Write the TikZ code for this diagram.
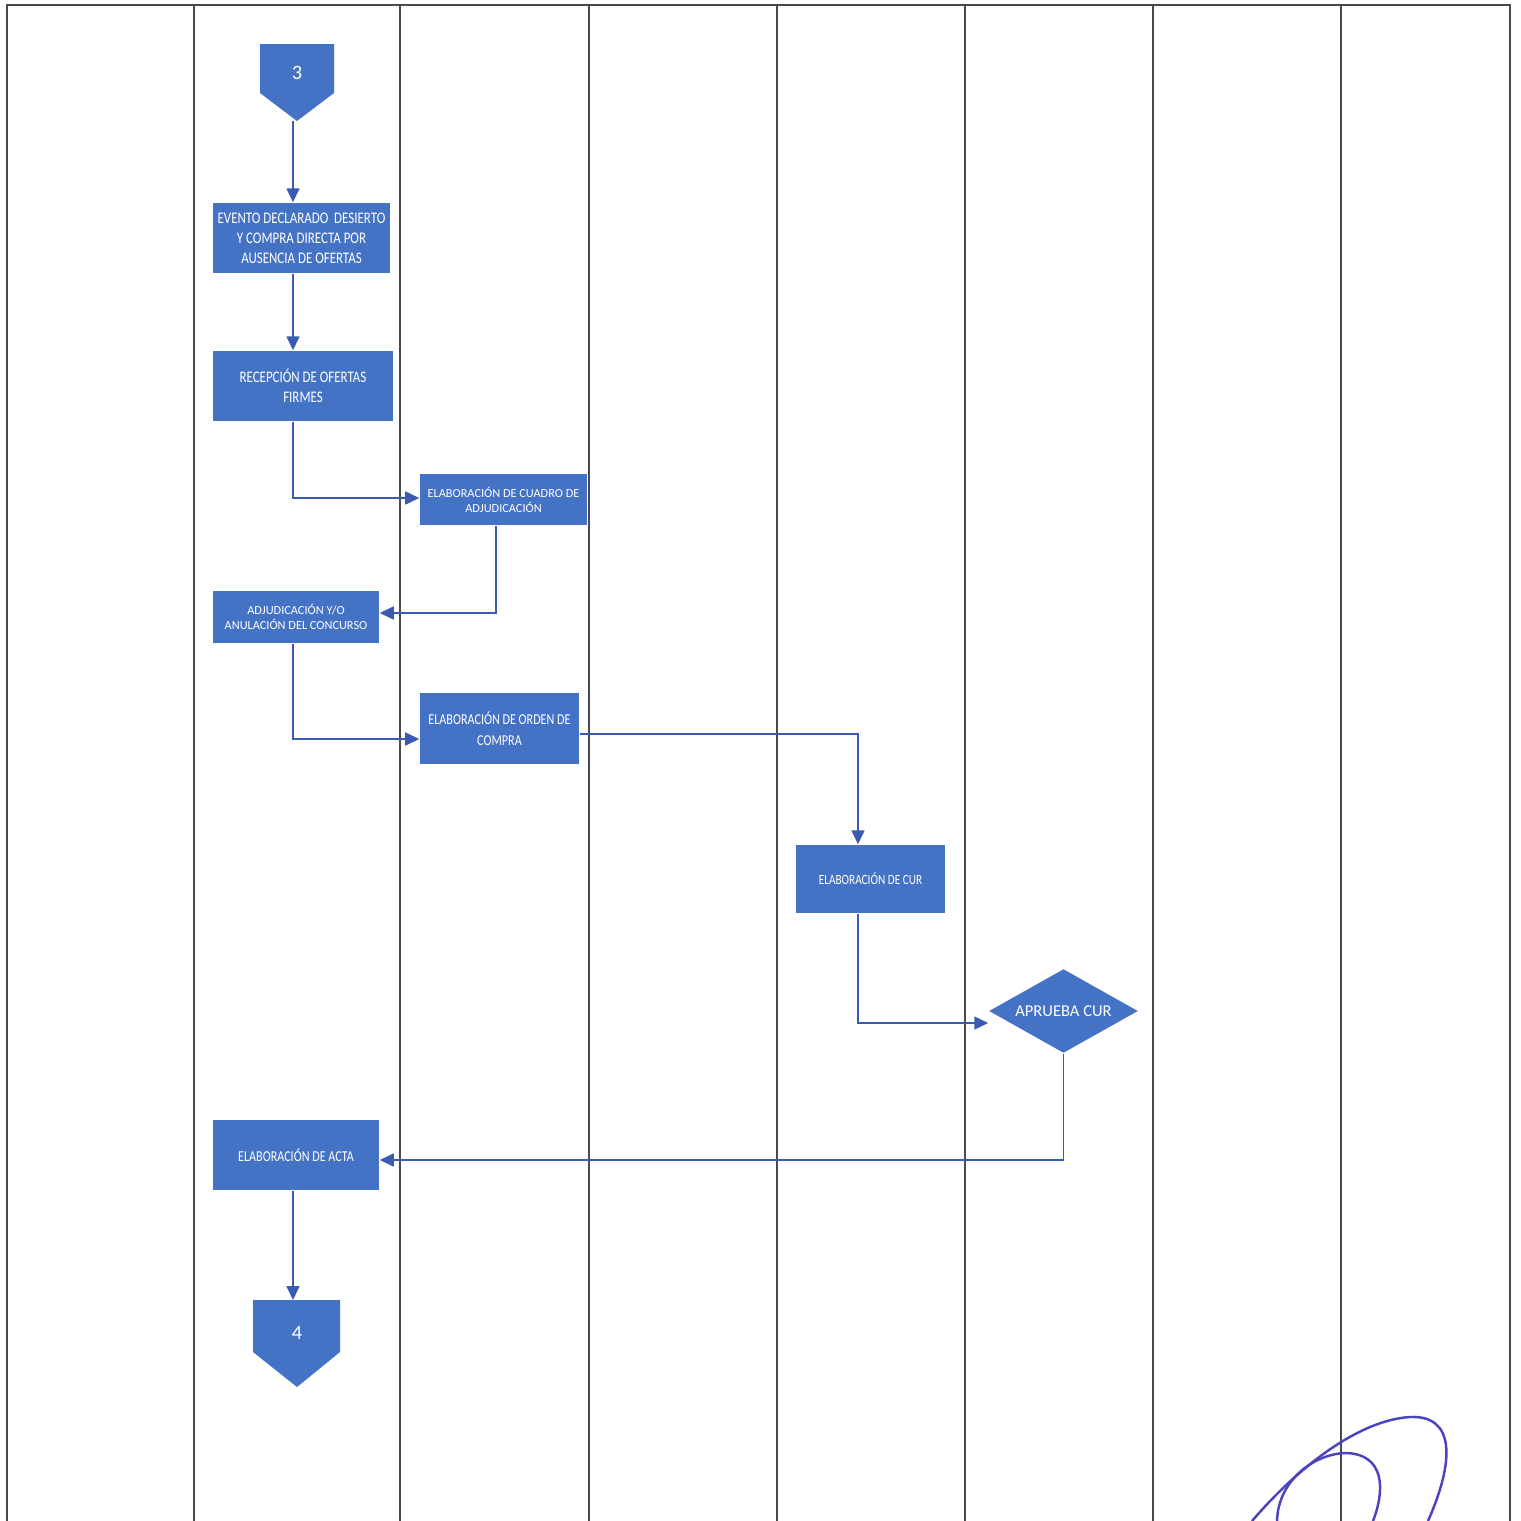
\documentclass[tikz,border=0pt]{standalone}
\usepackage{fontspec}
\setmainfont{Carlito}
\newfontfamily\condfont[FakeStretch=0.8]{Carlito}
\usepackage{tikz}
\usetikzlibrary{arrows.meta,positioning,shapes.geometric,calc}
\definecolor{flowblue}{HTML}{4472C4}
\definecolor{linkblue}{HTML}{3B5BB0}
\definecolor{gridgray}{HTML}{4A4A4A}
\definecolor{inkblue}{HTML}{4B44BE}

\begin{document}
\begin{tikzpicture}[
    x=0.01cm,y=-0.01cm,
    proc/.style={rectangle,fill=flowblue,text=white,align=center,inner sep=0pt,font=\condfont\fontsize{4.6}{5.7}\selectfont},
    procsm/.style={proc,font=\fontsize{3.5}{4.25}\selectfont},
    decide/.style={diamond,aspect=1.8,fill=flowblue,text=white,inner sep=0pt,font=\fontsize{4.7}{5.6}\selectfont},
    offpage/.style={fill=flowblue},
    lane/.style={draw=gridgray,line width=0.6pt},
    arr/.style={-{Triangle[length=1.4mm,width=1.3mm]},draw=linkblue,line width=0.45pt}
]
\fill[white] (0,0) rectangle (1521,1521);
\useasboundingbox (0,0) rectangle (1521,1521);

\draw[lane] (7,1521) |- (1510,5) -- (1510,1521);
\foreach \x in {194,400,589,777,965,1153,1341}
    \draw[lane] (\x,5) -- (\x,1521);

\coordinate (spine) at (293,0);

\fill[offpage] (260,44) -- (334,44) -- (334,93) -- (297,121) -- (260,93) -- cycle;
\node[text=white,font=\fontsize{5.8}{7}\selectfont] (c3) at (297,73) {3};
\coordinate (c3tip) at (297,121);

\node[proc,minimum width=1.77cm,minimum height=0.70cm] (ev) at (301.5,238)
    {EVENTO DECLARADO\ \ DESIERTO\\Y COMPRA DIRECTA POR\\AUSENCIA DE OFERTAS};
\node[proc,minimum width=1.80cm,minimum height=0.70cm] (rec) at (303,386)
    {RECEPCIÓN DE OFERTAS\\FIRMES};
\node[procsm,minimum width=1.67cm,minimum height=0.51cm] (cua) at (503.5,499.5)
    {ELABORACIÓN DE CUADRO DE\\ADJUDICACIÓN};
\node[procsm,minimum width=1.66cm,minimum height=0.52cm] (adj) at (296,617)
    {ADJUDICACIÓN Y/O\\ANULACIÓN DEL CONCURSO};
\node[proc,font=\condfont\fontsize{4.3}{5.9}\selectfont,minimum width=1.59cm,minimum height=0.71cm] (ord) at (499.5,728.5)
    {ELABORACIÓN DE ORDEN DE\\COMPRA};
\node[proc,font=\condfont\fontsize{4.0}{5}\selectfont,minimum width=1.49cm,minimum height=0.68cm] (cur) at (870.5,879)
    {ELABORACIÓN DE CUR};
\node[decide,minimum width=1.49cm,minimum height=0.84cm] (apr) at (1063.5,1011)
    {APRUEBA CUR};
\node[proc,font=\condfont\fontsize{4.3}{5}\selectfont,minimum width=1.66cm,minimum height=0.70cm] (act) at (296,1155)
    {ELABORACIÓN DE ACTA};

\fill[offpage] (253,1300) -- (340,1300) -- (340,1352) -- (297,1387) -- (253,1352) -- cycle;
\node[text=white,font=\fontsize{5.8}{7}\selectfont] (c4) at (297,1333) {4};
\coordinate (c4top) at (297,1300);

\draw[arr] (c3tip -| spine) -- (ev.north -| spine);
\draw[arr] (ev.south -| spine) -- (rec.north -| spine);
\draw[arr] (rec.south -| spine) |- ([yshift=0.15mm]cua.west);
\draw[arr] ([xshift=-0.75mm]cua.south) |- ([yshift=0.4mm]adj.east);
\draw[arr] (adj.south -| spine) |- ([yshift=-1.05mm]ord.west);
\draw[arr] ([yshift=-0.55mm]ord.east) -| ([xshift=-1.25mm]cur.north);
\draw[arr] ([xshift=-1.25mm]cur.south) |- ([yshift=-1.2mm]apr.west);
\draw[arr] (apr.south) |- ([yshift=-0.5mm]act.east);
\draw[arr] (act.south -| spine) -- (c4top -| spine);

\draw[inkblue,line width=0.7pt] (1252,1521) .. controls (1300,1465) and (1360,1420) .. (1410,1417)
    .. controls (1455,1415) and (1455,1460) .. (1428,1521);
\draw[inkblue,line width=0.7pt] (1277,1521) .. controls (1278,1480) and (1315,1453) .. (1347,1453)
    .. controls (1385,1455) and (1385,1490) .. (1373,1521);
\end{tikzpicture}
\end{document}
